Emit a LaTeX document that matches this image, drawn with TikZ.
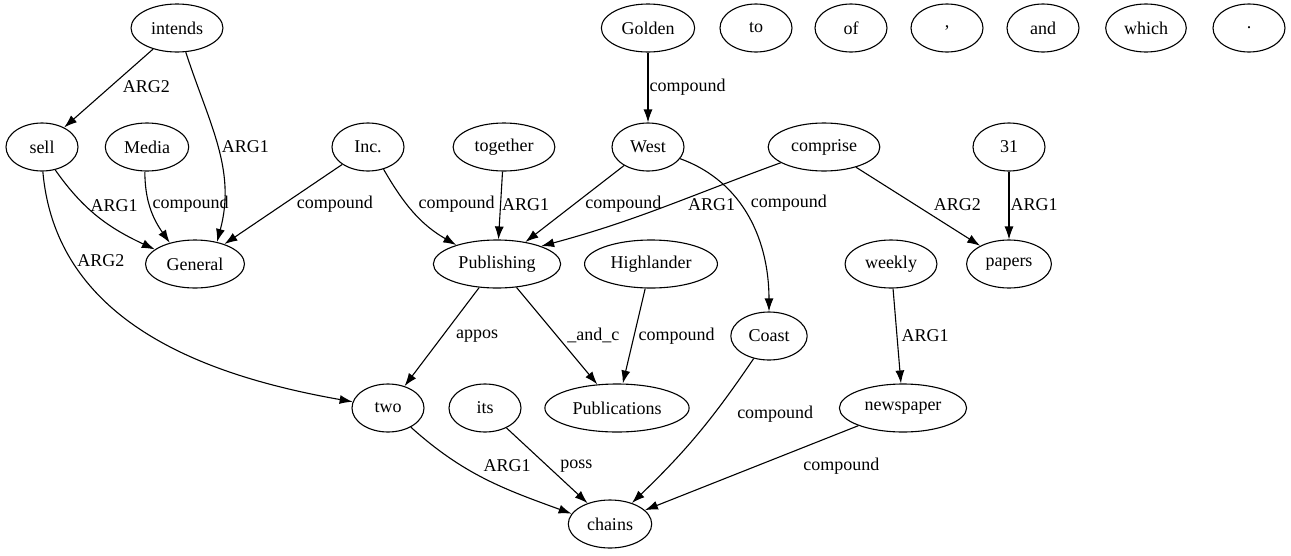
\documentclass[tikz,border=0pt]{standalone}
\usepackage{fontspec}
\setmainfont{Liberation Serif}
\usetikzlibrary{shapes.geometric,arrows.meta}
\begin{document}
\begin{tikzpicture}[x=1pt,y=-1pt]
    \tikzstyle{every node} = [draw, shape=ellipse, line width=1.1pt, minimum width=72pt, minimum height=48pt, inner xsep=6.5pt, inner ysep=3pt, font=\fontsize{18}{21}\selectfont]
    \tikzstyle{ann} = [draw=none, shape=rectangle, minimum width=0pt, minimum height=0pt, inner sep=1pt, anchor=west]
    \tikzstyle{arc} = [draw, line width=1.1pt, -{Latex[length=13pt,width=9pt]}]
    \useasboundingbox (0,0) rectangle (1291,555);
    % top row
    \node (intends) at (177,28) {intends};
    \node (golden) at (648,28) {Golden};
    \node (wto) at (756,28) {to};
    \node (wof) at (851,28) {of};
    \node (wcomma) at (947,28) {,};
    \node (wand) at (1043,28) {and};
    \node (wwhich) at (1146,28) {which};
    \node (wdot) at (1249,28) {.};
    % second row
    \node (sell) at (42,147) {sell};
    \node (media) at (147,147) {Media};
    \node (inc) at (368,147) {Inc.};
    \node (together) at (504,147) {together};
    \node (west) at (648,147) {West};
    \node (comprise) at (824,147) {comprise};
    \node (thirtyone) at (1009,147) {31};
    % third row
    \node (general) at (195,264) {General};
    \node (publishing) at (497,264) {Publishing};
    \node (highlander) at (651,264) {Highlander};
    \node (weekly) at (891,264) {weekly};
    \node (papers) at (1009,264) {papers};
    \node (coast) at (769,336) {Coast};
    % lower rows
    \node (two) at (388,408) {two};
    \node (its) at (485,408) {its};
    \node (publications) at (617,408) {Publications};
    \node (newspaper) at (903,408) {newspaper};
    \node (chains) at (610,524) {chains};
    % edges
    \path (intends) edge[arc] node[ann,pos=.48,xshift=11pt] {ARG2} (sell);
    \path (intends.290) edge[arc,out=-72,in=75] node[ann,pos=.5,xshift=3pt] {ARG1} (general.45);
    \path (golden) edge[arc] node[ann,pos=.49] {compound} (west);
    \path (sell.-60) edge[arc,out=-55,in=155] node[ann,pos=.35,xshift=4pt] {ARG1} (general.160);
    \path (sell.-88) edge[arc,out=-85,in=170] node[ann,pos=.23,xshift=4pt] {ARG2} (two.170);
    \path (media.-95) edge[arc,out=-90,in=125] node[ann,pos=.42,xshift=2pt] {compound} (general.140);
    \path (inc) edge[arc] node[ann,pos=.5,xshift=12pt] {compound} (general);
    \path (inc.-55) edge[arc,out=-60,in=150] node[ann,pos=.39,xshift=10pt] {compound} (publishing.155);
    \path (together) edge[arc] node[ann,pos=.48] {ARG1} (publishing);
    \path (west) edge[arc] node[ann,pos=.5,xshift=9pt] {compound} (publishing);
    \path (comprise.200) edge[arc,out=200,in=15] node[ann,pos=.46,xshift=16pt] {ARG1} (publishing.22);
    \path (west.-20) edge[arc,out=-20,in=90] node[ann,pos=.4,xshift=10pt] {compound} (coast.north);
    \path (comprise) edge[arc] node[ann,pos=.47,xshift=18pt] {ARG2} (papers);
    \path (thirtyone) edge[arc] node[ann,pos=.48] {ARG1} (papers);
    \path (weekly) edge[arc] node[ann,pos=.5,xshift=3pt] {ARG1} (newspaper);
    \path (publishing) edge[arc] node[ann,pos=.49,xshift=12pt] {appos} (two);
    \path (publishing) edge[arc] node[ann,pos=.5,xshift=9pt] {\_and\_c} (publications);
    \path (highlander) edge[arc] node[ann,pos=.5,xshift=3pt] {compound} (publications);
    \path (two.-40) edge[arc,out=-42,in=160] node[ann,pos=.34,xshift=20pt] {ARG1} (chains.165);
    \path (its) edge[arc] node[ann,pos=.51,xshift=11pt] {poss} (chains);
    \path (coast) edge[arc,bend left=6] node[ann,pos=.35,xshift=22pt] {compound} (chains);
    \path (newspaper) edge[arc] node[ann,pos=.48,xshift=46pt] {compound} (chains);
\end{tikzpicture}
\end{document}
